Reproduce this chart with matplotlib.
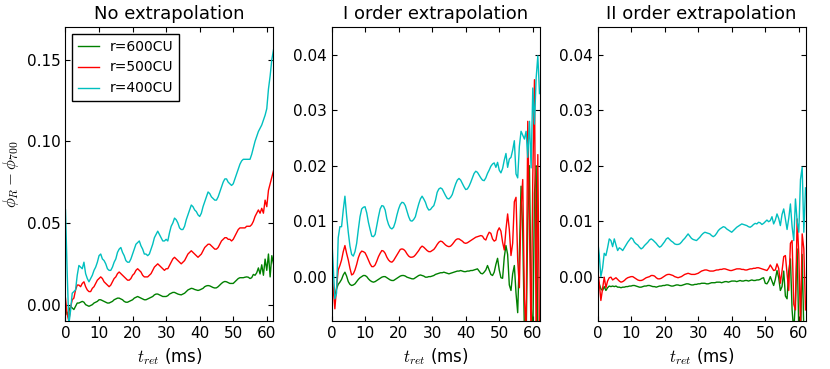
import numpy as np
import matplotlib
matplotlib.use("Agg")
import matplotlib.pyplot as plt

# retarded time grid (ms), 0.5 ms step
t_ret = np.arange(0, 62.5, 0.5)

labels = ["r=600CU", "r=500CU", "r=400CU"]
colors = ["g", "r", "c"]
titles = ["No extrapolation", "I order extrapolation", "II order extrapolation"]

# ---- No extrapolation ----
noext_600 = [
    -0.002, -0.006, -0.004, -0.001, -0.002, -0.003, -0.001, 0.001, 0.001, 0.0015,
    0.002, 0.0015, 0.000, -0.0005, -0.001, -0.0005, 0.000, 0.001, 0.0015, 0.002,
    0.003, 0.003, 0.0025, 0.002, 0.0015, 0.001, 0.001, 0.0015, 0.002, 0.003,
    0.0035, 0.004, 0.004, 0.0035, 0.003, 0.002, 0.0015, 0.0015, 0.002, 0.0025,
    0.003, 0.004, 0.0045, 0.005, 0.0045, 0.004, 0.0035, 0.003, 0.003, 0.0035,
    0.004, 0.0045, 0.005, 0.006, 0.0065, 0.0065, 0.006, 0.0055, 0.005, 0.005,
    0.005, 0.0055, 0.0065, 0.007, 0.0075, 0.0075, 0.007, 0.0065, 0.0062, 0.006,
    0.0065, 0.007, 0.008, 0.009, 0.0095, 0.010, 0.0098, 0.0093, 0.009, 0.0087,
    0.009, 0.0095, 0.010, 0.011, 0.0115, 0.0117, 0.0115, 0.011, 0.0105, 0.0102,
    0.0103, 0.011, 0.012, 0.013, 0.0138, 0.0142, 0.014, 0.0135, 0.013, 0.013,
    0.013, 0.014, 0.015, 0.016, 0.0165, 0.0165, 0.0165, 0.0168, 0.017, 0.0168,
    0.016, 0.0165, 0.0185, 0.018, 0.0195, 0.0225, 0.0188, 0.0244, 0.018, 0.0279,
    0.021, 0.031, 0.017, 0.030, 0.025]
noext_500 = [
    0.004, -0.006, -0.010, -0.002, 0.003, 0.004, 0.009, 0.012, 0.012, 0.011,
    0.013, 0.014, 0.011, 0.009, 0.008, 0.008, 0.010, 0.011, 0.013, 0.015,
    0.016, 0.017, 0.016, 0.014, 0.013, 0.012, 0.011, 0.012, 0.014, 0.016,
    0.017, 0.019, 0.020, 0.019, 0.018, 0.017, 0.016, 0.015, 0.015, 0.016,
    0.018, 0.019, 0.021, 0.022, 0.021, 0.020, 0.018, 0.017, 0.017, 0.017,
    0.018, 0.019, 0.021, 0.023, 0.024, 0.025, 0.024, 0.023, 0.022, 0.021,
    0.022, 0.022, 0.024, 0.026, 0.028, 0.029, 0.028, 0.027, 0.026, 0.025,
    0.026, 0.027, 0.029, 0.031, 0.032, 0.033, 0.032, 0.031, 0.030, 0.029,
    0.030, 0.031, 0.033, 0.035, 0.036, 0.037, 0.037, 0.036, 0.035, 0.034,
    0.034, 0.035, 0.037, 0.039, 0.040, 0.041, 0.041, 0.040, 0.040, 0.039,
    0.040, 0.042, 0.044, 0.046, 0.047, 0.047, 0.047, 0.047, 0.048, 0.048,
    0.048, 0.049, 0.051, 0.054, 0.056, 0.058, 0.056, 0.059, 0.056, 0.064,
    0.060, 0.070, 0.074, 0.078, 0.082]
noext_400 = [
    0.058, 0.020, -0.012, -0.004, 0.007, 0.008, 0.009, 0.018, 0.024, 0.023,
    0.022, 0.026, 0.019, 0.016, 0.014, 0.016, 0.018, 0.021, 0.023, 0.026,
    0.030, 0.031, 0.028, 0.027, 0.025, 0.022, 0.021, 0.021, 0.023, 0.026,
    0.028, 0.032, 0.034, 0.035, 0.032, 0.030, 0.027, 0.026, 0.026, 0.028,
    0.031, 0.034, 0.037, 0.038, 0.039, 0.036, 0.034, 0.031, 0.031, 0.030,
    0.031, 0.034, 0.037, 0.041, 0.043, 0.045, 0.043, 0.041, 0.039, 0.039,
    0.040, 0.039, 0.044, 0.048, 0.050, 0.053, 0.052, 0.050, 0.047, 0.046,
    0.046, 0.048, 0.052, 0.055, 0.058, 0.061, 0.060, 0.058, 0.057, 0.055,
    0.054, 0.056, 0.060, 0.063, 0.066, 0.069, 0.068, 0.066, 0.065, 0.064,
    0.064, 0.066, 0.069, 0.072, 0.075, 0.077, 0.077, 0.075, 0.074, 0.073,
    0.074, 0.077, 0.080, 0.083, 0.086, 0.088, 0.089, 0.089, 0.089, 0.089,
    0.089, 0.092, 0.096, 0.100, 0.103, 0.106, 0.108, 0.110, 0.113, 0.116,
    0.120, 0.132, 0.140, 0.150, 0.156]

# ---- I order extrapolation ----
ord1_600 = [
    -0.001, -0.0025, -0.0037, -0.0022, -0.0014, -0.001, -0.0005, 0.0003, 0.0008, 0.0001,
    -0.0009, -0.0014, -0.0016, -0.0015, -0.0013, -0.0009, -0.0005, -0.0002, 0.0, 0.0002,
    0.0002, 0.0, -0.0004, -0.0007, -0.0009, -0.001, -0.0009, -0.0007, -0.0005, -0.0003,
    -0.0001, 0.0, 0.0, -0.0002, -0.0004, -0.0006, -0.0007, -0.0007, -0.0005, -0.0003,
    -0.0001, 0.0001, 0.0002, 0.0002, 0.0001, -0.0001, -0.0002, -0.0003, -0.0004, -0.0004,
    -0.0002, 0.0, 0.0002, 0.0003, 0.0002, 0.0001, -0.0001, -0.0001, 0.0, 0.0,
    0.0001, 0.0002, 0.0004, 0.0005, 0.0006, 0.0007, 0.0007, 0.0008, 0.0007, 0.0006,
    0.0005, 0.0006, 0.0007, 0.0008, 0.0009, 0.001, 0.001, 0.0011, 0.001, 0.0009,
    0.0009, 0.001, 0.001, 0.0011, 0.0011, 0.0012, 0.0013, 0.0014, 0.001, 0.0006,
    0.0005, 0.0008, 0.0012, 0.002, 0.0012, 0.0004, 0.0002, 0.0008, 0.0022, 0.0033,
    0.0012, -0.0002, -0.0003, 0.0035, 0.0056, 0.004, -0.0015, -0.0025, 0.0005, 0.002,
    -0.003, -0.0065, 0.004, 0.0163, 0.008, -0.010, -0.012, 0.010, 0.020, -0.005,
    -0.012, 0.015, 0.020, -0.012, -0.012]
ord1_500 = [
    0.002, -0.002, -0.0058, -0.002, 0.0012, 0.002, 0.003, 0.0045, 0.0056, 0.0042,
    0.003, 0.0015, 0.0003, 0.0005, 0.0012, 0.0022, 0.0034, 0.0042, 0.0046, 0.0045,
    0.0043, 0.0037, 0.003, 0.0023, 0.0018, 0.0018, 0.0021, 0.0028, 0.0036, 0.0042,
    0.0047, 0.0046, 0.0042, 0.0035, 0.003, 0.0027, 0.0026, 0.0029, 0.0034, 0.0039,
    0.0044, 0.0049, 0.005, 0.0049, 0.0046, 0.0041, 0.0037, 0.0035, 0.0035, 0.0036,
    0.0039, 0.0043, 0.0047, 0.0052, 0.0055, 0.0053, 0.005, 0.0047, 0.0045, 0.0045,
    0.0047, 0.0049, 0.0053, 0.0058, 0.0062, 0.0064, 0.0063, 0.006, 0.0057, 0.0055,
    0.0054, 0.0055, 0.0058, 0.0062, 0.0066, 0.0068, 0.0068, 0.0066, 0.0064, 0.0061,
    0.006, 0.0061, 0.0063, 0.0065, 0.0067, 0.0069, 0.0071, 0.0072, 0.0073, 0.0074,
    0.0073, 0.0068, 0.0066, 0.0074, 0.008, 0.0078, 0.0068, 0.0064, 0.0066, 0.0082,
    0.0088, 0.0082, 0.0062, 0.0048, 0.0085, 0.0113, 0.0085, 0.0038, 0.006, 0.0135,
    0.0143, 0.003, -0.002, 0.0125, 0.0175, -0.004, -0.010, 0.028, 0.010, -0.012,
    0.018, 0.0355, -0.012, 0.022, -0.012]
ord1_400 = [
    0.008, 0.002, -0.004, -0.003, 0.007, 0.009, 0.009, 0.012, 0.0145, 0.011,
    0.008, 0.0055, 0.004, 0.0037, 0.0045, 0.006, 0.0085, 0.0108, 0.0122, 0.0125,
    0.0126, 0.0115, 0.0098, 0.0085, 0.0073, 0.0072, 0.0076, 0.0092, 0.0108, 0.0122,
    0.0128, 0.0127, 0.012, 0.0104, 0.0094, 0.0088, 0.0086, 0.0089, 0.0098, 0.0111,
    0.0122, 0.013, 0.0134, 0.0133, 0.0128, 0.0118, 0.0108, 0.0101, 0.010, 0.0103,
    0.0108, 0.012, 0.0131, 0.014, 0.0145, 0.014, 0.0134, 0.0125, 0.012, 0.0121,
    0.0125, 0.0128, 0.0138, 0.0152, 0.0158, 0.016, 0.0158, 0.0152, 0.0146, 0.0141,
    0.014, 0.0143, 0.0148, 0.0158, 0.0167, 0.0174, 0.0177, 0.0174, 0.0168, 0.0162,
    0.0157, 0.0158, 0.0163, 0.017, 0.0178, 0.0186, 0.019, 0.0188, 0.0183, 0.0178,
    0.0174, 0.0173, 0.0178, 0.0186, 0.0192, 0.0199, 0.0203, 0.0205, 0.0197, 0.0206,
    0.0192, 0.0187, 0.0195, 0.021, 0.0222, 0.0197, 0.0212, 0.0215, 0.0228, 0.0245,
    0.0185, 0.0178, 0.0235, 0.0262, 0.0255, 0.0248, 0.0262, 0.0215, 0.028, 0.0196,
    0.034, 0.0275, 0.0358, 0.0398, 0.033]

# ---- II order extrapolation ----
ord2_600 = [
    -0.0007, -0.0013, -0.0022, -0.0025, -0.0018, -0.0025, -0.002, -0.0017, -0.0018, -0.0017,
    -0.0018, -0.0017, -0.0019, -0.0019, -0.002, -0.0019, -0.0019, -0.0018, -0.0018, -0.0017,
    -0.0017, -0.0016, -0.0016, -0.0017, -0.0018, -0.0019, -0.0019, -0.0018, -0.0017, -0.0017,
    -0.0016, -0.0016, -0.0017, -0.0018, -0.0018, -0.0019, -0.0018, -0.0017, -0.0017, -0.0016,
    -0.0016, -0.0015, -0.0015, -0.0016, -0.0017, -0.0017, -0.0016, -0.0015, -0.0015, -0.0016,
    -0.0016, -0.0015, -0.0014, -0.0013, -0.0013, -0.0014, -0.0015, -0.0015, -0.0014, -0.0014,
    -0.0013, -0.0013, -0.0012, -0.0012, -0.0012, -0.0013, -0.0013, -0.0012, -0.0011, -0.0011,
    -0.0011, -0.001, -0.001, -0.001, -0.0011, -0.001, -0.0009, -0.0009, -0.001, -0.0009,
    -0.0008, -0.0008, -0.0008, -0.0009, -0.0008, -0.0007, -0.0008, -0.0008, -0.0007, -0.0007,
    -0.0008, -0.0007, -0.0006, -0.0007, -0.0007, -0.0006, -0.0006, -0.0005, -0.0003, -0.0002,
    -0.0012, -0.0013, -0.0008, 0.0, -0.0008, -0.0016, -0.0005, 0.0011, -0.0002, -0.0025,
    -0.0018, 0.001, -0.0035, -0.004, 0.001, 0.0032, -0.006, -0.010, -0.004, 0.005,
    -0.010, -0.012, 0.004, -0.010, -0.012]
ord2_500 = [
    0.0015, -0.001, -0.0043, -0.0022, -0.0001, -0.002, -0.0008, -0.0002, -0.0001, -0.0006,
    -0.0004, -0.0002, -0.0005, -0.0008, -0.001, -0.0009, -0.0007, -0.0004, -0.0002, -0.0001,
    0.0, 0.0, -0.0002, -0.0004, -0.0006, -0.0007, -0.0007, -0.0006, -0.0004, -0.0002,
    -0.0001, 0.0, 0.0002, 0.0002, 0.0001, -0.0002, -0.0004, -0.0004, -0.0003, -0.0001,
    0.0001, 0.0003, 0.0004, 0.0004, 0.0003, 0.0002, 0.0, -0.0001, -0.0002, -0.0001,
    0.0, 0.0002, 0.0004, 0.0005, 0.0006, 0.0005, 0.0004, 0.0004, 0.0004, 0.0005,
    0.0006, 0.0008, 0.001, 0.0011, 0.0012, 0.0012, 0.0011, 0.001, 0.001, 0.001,
    0.0011, 0.0012, 0.0012, 0.0013, 0.0013, 0.0014, 0.0014, 0.0013, 0.0012, 0.0011,
    0.0011, 0.0012, 0.0013, 0.0014, 0.0014, 0.0014, 0.0013, 0.0013, 0.0012, 0.0012,
    0.0013, 0.0014, 0.0014, 0.0015, 0.0015, 0.0016, 0.0016, 0.0015, 0.0014, 0.0013,
    0.0012, 0.0011, 0.0015, 0.0021, 0.0016, 0.0011, 0.0012, 0.0023, 0.0015, -0.0012,
    0.001, 0.0036, 0.0038, 0.0005, -0.0025, 0.006, 0.0065, -0.005, -0.006, 0.0104,
    0.004, -0.009, 0.0077, 0.005, -0.006]
ord2_400 = [
    0.0068, 0.004, 0.0, 0.0015, 0.0042, 0.0038, 0.0052, 0.0068, 0.0065, 0.0054,
    0.0068, 0.0057, 0.0047, 0.0052, 0.005, 0.0047, 0.0052, 0.0057, 0.0062, 0.0066,
    0.007, 0.0068, 0.0062, 0.0059, 0.0057, 0.0053, 0.005, 0.0052, 0.0056, 0.0059,
    0.0062, 0.0066, 0.0068, 0.0066, 0.0063, 0.006, 0.0056, 0.0053, 0.0055, 0.0059,
    0.0063, 0.0068, 0.007, 0.0067, 0.0064, 0.0062, 0.0059, 0.0058, 0.0058, 0.0059,
    0.0062, 0.0066, 0.0069, 0.0073, 0.0077, 0.0073, 0.0069, 0.0067, 0.0066, 0.0065,
    0.0068, 0.0071, 0.0075, 0.0078, 0.008, 0.0079, 0.0078, 0.0077, 0.0074, 0.0072,
    0.0074, 0.0078, 0.0083, 0.0086, 0.0088, 0.009, 0.0089, 0.0086, 0.0084, 0.0082,
    0.008, 0.0083, 0.0086, 0.0089, 0.0091, 0.0093, 0.0095, 0.0094, 0.0093, 0.0092,
    0.009, 0.0089, 0.0091, 0.0094, 0.0096, 0.0095, 0.0098, 0.0097, 0.0094, 0.0096,
    0.0099, 0.0102, 0.0099, 0.0101, 0.0108, 0.0095, 0.0102, 0.0113, 0.0105, 0.0092,
    0.0112, 0.0122, 0.0104, 0.0085, 0.0105, 0.0131, 0.009, 0.0065, 0.014, 0.010,
    0.008, 0.0175, 0.0197, 0.008, 0.016]

panels = [
    [noext_600, noext_500, noext_400],
    [ord1_600, ord1_500, ord1_400],
    [ord2_600, ord2_500, ord2_400],
]

# old-style look: ticks inside on all four sides
plt.rcParams['mathtext.fontset'] = 'cm'
plt.rcParams['xtick.direction'] = 'in'
plt.rcParams['ytick.direction'] = 'in'
plt.rcParams['xtick.top'] = True
plt.rcParams['ytick.right'] = True
plt.rcParams['xtick.major.size'] = 3.5
plt.rcParams['ytick.major.size'] = 3.5
plt.rcParams['xtick.labelsize'] = 11
plt.rcParams['ytick.labelsize'] = 11

fig = plt.figure(figsize=(8.3, 3.69), dpi=100)
lefts = [0.0789, 0.3994, 0.7199]
ylims = [(-0.01, 0.17), (-0.008, 0.045), (-0.008, 0.045)]
yticks = [[0.0, 0.05, 0.10, 0.15], [0.0, 0.01, 0.02, 0.03, 0.04], [0.0, 0.01, 0.02, 0.03, 0.04]]

for i in range(3):
    ax = fig.add_axes([lefts[i], 0.1301, 0.2506, 0.7967])
    for series, lab, col in zip(panels[i], labels, colors):
        ax.plot(t_ret, series, color=col, lw=1.0, label=lab)
    ax.set_xlim(0, 62)
    ax.set_ylim(*ylims[i])
    ax.set_xticks([0, 10, 20, 30, 40, 50, 60])
    ax.set_yticks(yticks[i])
    ax.yaxis.set_major_formatter(matplotlib.ticker.FormatStrFormatter('%.2f'))
    ax.set_title(titles[i], fontsize=13)
    ax.set_xlabel(r'$t_{ret}$ (ms)', fontsize=12)
    if i == 0:
        ax.set_ylabel(r'$\phi_R - \phi_{700}$', fontsize=12)
        leg = ax.legend(loc='upper left', fontsize=10, handlelength=1.5,
                        handletextpad=0.8, fancybox=False, framealpha=1)
        leg.get_frame().set_edgecolor('black')

fig.savefig('out.png', dpi=100)
